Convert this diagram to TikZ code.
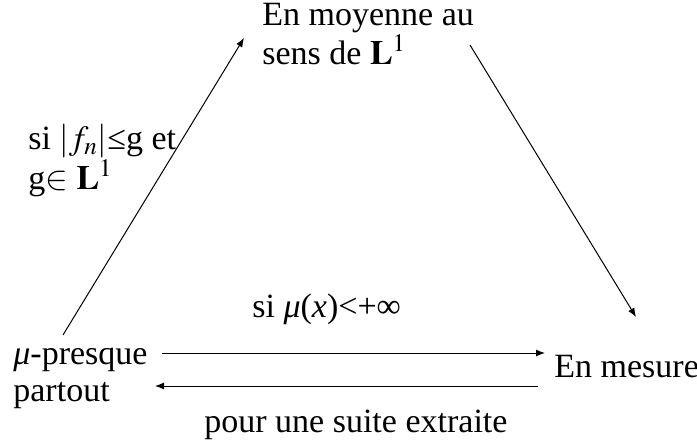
\documentclass[tikz,border=0pt]{standalone}
\usepackage{mathptmx}
\usepackage[no-math]{fontspec}
\setmainfont{Liberation Serif}
\usetikzlibrary{positioning,arrows.meta}
\begin{document}
\begin{tikzpicture}[x=0.5pt,y=-0.5pt,
  txt/.style={inner sep=0pt,align=left,anchor=base west,font=\fontsize{17}{18.2}\selectfont},
  conv/.style={-{Latex[length=4.5pt,width=3.5pt]},line width=0.5pt}]
\useasboundingbox (0,0) rectangle (697,445);
% les quatre modes de convergence
\node[txt] (moy) at (262,64) {En moyenne au\\sens de $\mathbf{L}^1$};
\node[txt] (ps) at (13,401) {\textit{μ}-presque\\partout};
\node[txt] (mes) at (554,377) {En mesure};
% conditions
\node[txt] (cond) at (28,189) {si $|f_n|$≤g et\\g$\in$ $\mathbf{L}^1$};
\node[txt] (fini) at (252,317) {si \textit{μ}(\textit{x})<+∞};
\node[txt] (extr) at (204,432) {pour une suite extraite};
% fleches
\draw[conv] ([shift={(50,-66)}]ps.base west) -- ([shift={(-18,-26)}]moy.base west);
\draw[conv] ([shift={(208,-19)}]moy.base west) -- ([shift={(82,-60)}]mes.base west);
\draw[conv] ([shift={(149,-48)}]ps.base west) -- ([shift={(-9,-24)}]mes.base west);
\draw[conv] ([shift={(-16,9)}]mes.base west) -- ([shift={(142,-15)}]ps.base west);
\end{tikzpicture}
\end{document}
